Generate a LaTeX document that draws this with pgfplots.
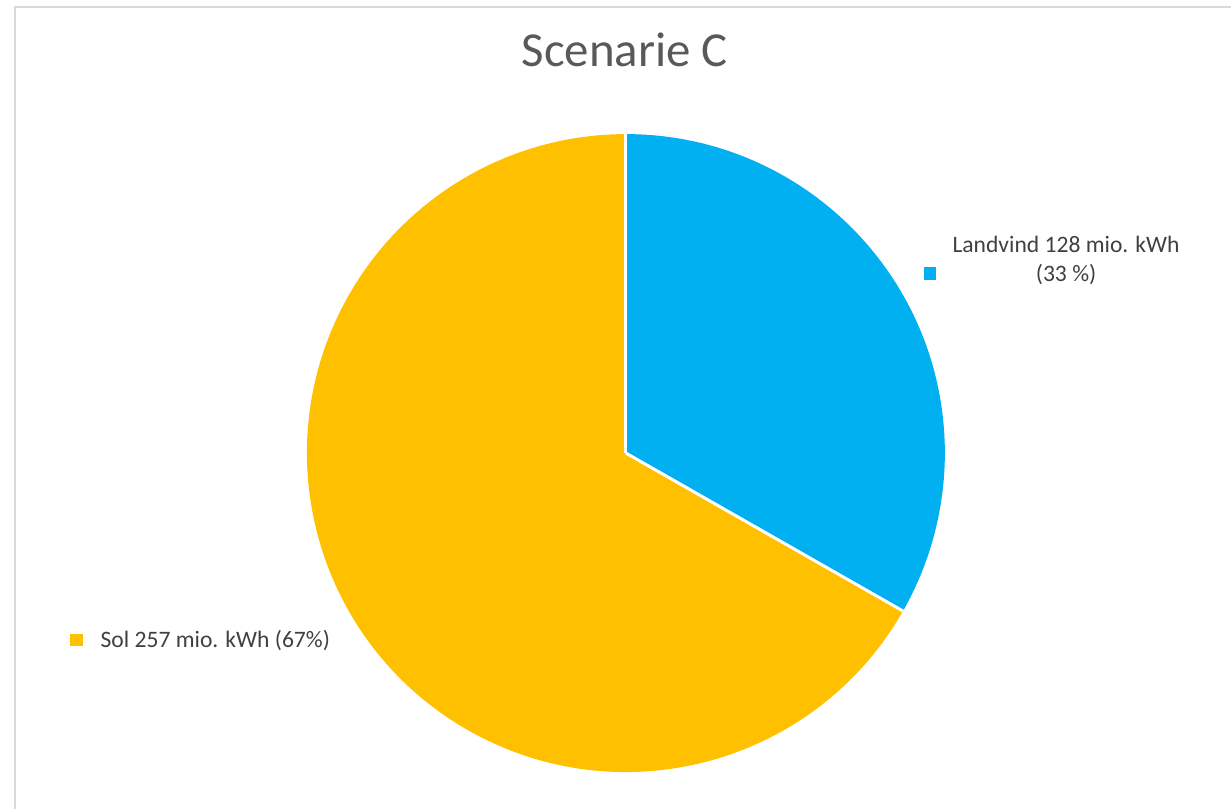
\documentclass[border=0pt]{standalone}
\usepackage{pgfplots}
\pgfplotsset{compat=1.18}
\usepackage{fontspec}
\setmainfont{Carlito}
\definecolor{vind}{HTML}{00B0F0}
\definecolor{sol}{HTML}{FFC000}
\definecolor{titlegray}{HTML}{595959}
\definecolor{labelgray}{HTML}{404040}
\definecolor{framegray}{HTML}{D9D9D9}

% values in mio. kWh
\def\vind{128}
\def\sol{257}

\begin{document}
\pgfmathsetmacro{\total}{\vind+\sol}
\pgfmathsetmacro{\aend}{90-360*(\vind/\total)}
\begin{tikzpicture}
\begin{axis}[
    hide axis, clip=false,
    x=0.2mm, y=0.2mm,
    xmin=0, xmax=1231, ymin=0, ymax=814,
    scale only axis,
  ]
  \coordinate (ll) at (axis cs:0,0);
  \coordinate (ur) at (axis cs:1231,814);
  % chart frame
  \draw[framegray, line width=0.4mm] (axis cs:7,0) -- (axis cs:7,807) -- (axis cs:1231,807);

  % Landvind slice
  \fill[vind] (axis cs:622,358) -- ++(90:64.2mm) arc[start angle=90, end angle=\aend, radius=64.2mm] -- cycle;
  % Sol slice
  \fill[sol] (axis cs:622,358) -- ++(\aend:64.2mm) arc[start angle=\aend, end angle=-270, radius=64.2mm] -- cycle;
  \draw[white, line width=0.6mm] (axis cs:622,358) -- ++(90:64.4mm);
  \draw[white, line width=0.6mm] (axis cs:622,358) -- ++(\aend:64.4mm);

  % title
  \node[anchor=base, text=titlegray, font=\fontsize{28}{34}\selectfont] at (axis cs:621,747) {Scenarie C};

  % labels
  \addplot[only marks, mark=square*, mark size=1.15mm, color=vind] coordinates {(928,539)};
  \addplot[only marks, mark=square*, mark size=1.15mm, color=sol] coordinates {(69,170)};
  \node[anchor=base, text=labelgray, font=\fontsize{13.5}{16}\selectfont] at (axis cs:1065,560) {Landvind 128 mio. kWh};
  \node[anchor=base, text=labelgray, font=\fontsize{13.5}{16}\selectfont] at (axis cs:1065,531) {(33 \%)};
  \node[anchor=base west, inner sep=0pt, text=labelgray, font=\fontsize{13.5}{16}\selectfont] at (axis cs:93,162) {Sol 257 mio. kWh (67\%)};
\end{axis}
\pgfresetboundingbox
\path[use as bounding box] (ll) rectangle (ur);
\end{tikzpicture}
\end{document}
